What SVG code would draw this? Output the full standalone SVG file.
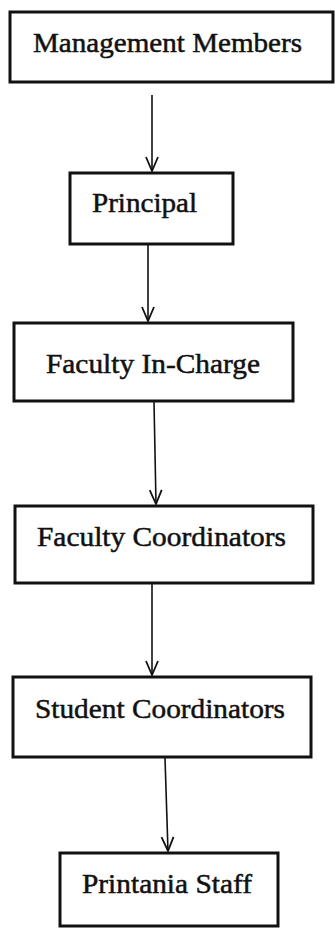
<svg xmlns="http://www.w3.org/2000/svg" width="335" height="929" viewBox="0 0 335 929">
<style>
.box{fill:#fff;stroke:#111;stroke-width:3}
.lbl{font-family:"Liberation Serif","DejaVu Serif",serif;font-size:28px;fill:#111;stroke:#111;stroke-width:0.5}
.con{stroke:#111;stroke-width:1.6;fill:none}
</style>
<defs>
<marker id="ah" markerUnits="userSpaceOnUse" markerWidth="18" markerHeight="16" refX="16" refY="8" orient="auto" viewBox="0 0 18 16">
<path d="M2,2 L16,8 L2,14" fill="none" stroke="#111" stroke-width="1.8"/>
</marker>
</defs>
<rect width="335" height="929" fill="#fff"/>
<g id="connectors">
<path class="con" d="M152,95 L152,171" marker-end="url(#ah)"/>
<path class="con" d="M148,245 L148,321" marker-end="url(#ah)"/>
<path class="con" d="M154,402 L156,504" marker-end="url(#ah)"/>
<path class="con" d="M152,584 L152,675" marker-end="url(#ah)"/>
<path class="con" d="M165,758 L168,851" marker-end="url(#ah)"/>
</g>
<g id="management">
<rect class="box" x="10" y="12" width="323" height="70"/>
<text class="lbl" x="33" y="52" textLength="269" lengthAdjust="spacingAndGlyphs">Management Members</text>
</g>
<g id="principal">
<rect class="box" x="70" y="173" width="163" height="71"/>
<text class="lbl" x="92" y="212" textLength="105" lengthAdjust="spacingAndGlyphs">Principal</text>
</g>
<g id="faculty-in-charge">
<rect class="box" x="14" y="323" width="279" height="78"/>
<text class="lbl" x="46" y="373" textLength="214" lengthAdjust="spacingAndGlyphs">Faculty In-Charge</text>
</g>
<g id="faculty-coordinators">
<rect class="box" x="15" y="506" width="298" height="77"/>
<text class="lbl" x="37" y="546" textLength="249" lengthAdjust="spacingAndGlyphs">Faculty Coordinators</text>
</g>
<g id="student-coordinators">
<rect class="box" x="13" y="677" width="298" height="80"/>
<text class="lbl" x="35" y="718" textLength="250" lengthAdjust="spacingAndGlyphs">Student Coordinators</text>
</g>
<g id="printania-staff">
<rect class="box" x="60" y="853" width="218" height="73"/>
<text class="lbl" x="82" y="893" textLength="170" lengthAdjust="spacingAndGlyphs">Printania Staff</text>
</g>
</svg>
